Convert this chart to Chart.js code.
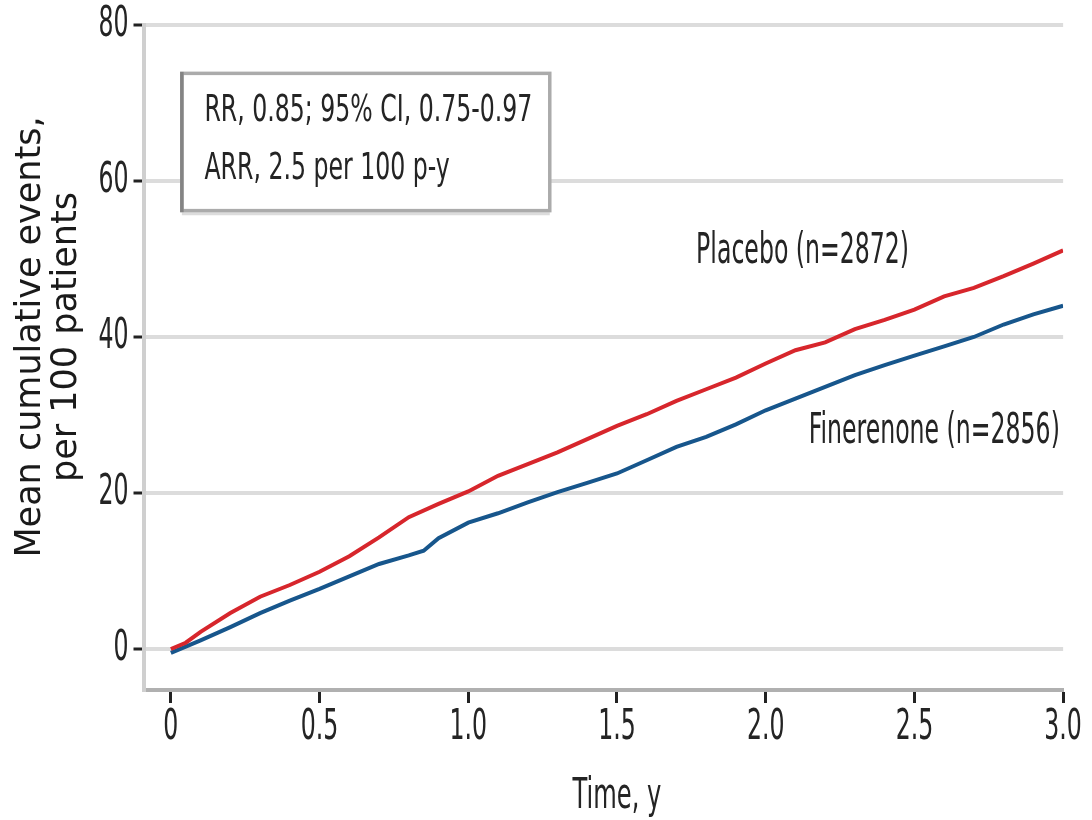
<!DOCTYPE html>
<html><head><meta charset="utf-8">
<script src="https://cdn.jsdelivr.net/npm/chart.js@4/dist/chart.umd.min.js"></script>
<style>html,body{margin:0;padding:0;background:#fff;} canvas{display:block}</style>
</head><body>
<canvas id="c" width="1092" height="820"></canvas>
<script>
// ---- data ----
const placeboTime   = [0, 0.05, 0.1, 0.2, 0.3, 0.4, 0.5, 0.6, 0.7, 0.8, 0.9, 1.0, 1.1, 1.2, 1.3, 1.4, 1.5, 1.6, 1.7, 1.8, 1.9, 2.0, 2.1, 2.2, 2.3, 2.4, 2.5, 2.6, 2.7, 2.8, 2.9, 3.0];
const placeboValues = [0, 0.8, 2.2, 4.6, 6.7, 8.2, 9.9, 11.9, 14.3, 16.9, 18.6, 20.2, 22.2, 23.7, 25.2, 26.9, 28.6, 30.1, 31.8, 33.3, 34.8, 36.6, 38.3, 39.3, 41.0, 42.2, 43.5, 45.2, 46.3, 47.8, 49.4, 51.1];
const finerenoneTime   = [0, 0.05, 0.1, 0.2, 0.3, 0.4, 0.5, 0.6, 0.7, 0.8, 0.85, 0.9, 1.0, 1.1, 1.2, 1.3, 1.4, 1.5, 1.6, 1.7, 1.8, 1.9, 2.0, 2.1, 2.2, 2.3, 2.4, 2.5, 2.6, 2.7, 2.8, 2.9, 3.0];
const finerenoneValues = [-0.5, 0.3, 1.1, 2.8, 4.6, 6.2, 7.7, 9.3, 10.9, 12.0, 12.6, 14.2, 16.2, 17.4, 18.8, 20.1, 21.3, 22.5, 24.2, 25.9, 27.2, 28.8, 30.6, 32.1, 33.6, 35.1, 36.4, 37.6, 38.8, 40.0, 41.6, 42.9, 44.0];
const xTickValues = [0, 0.5, 1.0, 1.5, 2.0, 2.5, 3.0];
const xTickLabels = ['0', '0.5', '1.0', '1.5', '2.0', '2.5', '3.0'];
const yTickValues = [0, 20, 40, 60, 80];
const yTickLabels = ['0', '20', '40', '60', '80'];
const seriesNames = ['Placebo (n=2872)', 'Finerenone (n=2856)'];
const statsLines  = ['RR, 0.85; 95% CI, 0.75-0.97', 'ARR, 2.5 per 100 p-y'];
const xTitleText  = 'Time, y';
const yTitleLines = ['Mean cumulative events,', 'per 100 patients'];

// ---- presentation ----
const NARROW = '"Liberation Sans Narrow", "DejaVu Sans Condensed", "Arial Narrow", sans-serif';
const TEXT_COLOR = '#242424';
const RED = '#d7262c';
const BLUE = '#17568c';
const TICK_SX = 0.82, TICK_SY = 1.355;

const seriesLabelPos = [ {x: 2.482, y: 50.9, sx: 0.82, sy: 1.34}, {x: 2.989, y: 27.8, sx: 0.82, sy: 1.34} ];
const statsBox = {x0: 0.037, x1: 1.274, y0: 73.8, y1: 56.2, textX: 0.113, lineY: [68.9, 61.5], sx: 0.82, sy: 1.16};

function fillScaled(ctx, text, x, y, sx, sy) {
  const fill = ctx._origFill || ctx.fillText;
  ctx.save();
  ctx.translate(x, y);
  ctx.scale(sx, sy);
  fill.call(ctx, text, 0, 0);
  ctx.restore();
}

// reshapes the condensed tick labels drawn by Chart.js (tall, narrow letters as in the reference)
const stretchPlugin = {
  id: 'stretchText',
  beforeDraw(chart) {
    const ctx = chart.ctx;
    if (ctx._origFill) return;
    const orig = ctx.fillText;
    ctx._origFill = orig;
    ctx.fillText = function (text, x, y, maxWidth) {
      if (this.font.indexOf('Narrow') >= 0) {
        this.save();
        this.translate(x, y);
        this.scale(TICK_SX, TICK_SY);
        orig.call(this, text, 0, 0, maxWidth);
        this.restore();
      } else {
        orig.call(this, text, x, y, maxWidth);
      }
    };
  },
  afterDraw(chart) {
    const ctx = chart.ctx;
    if (ctx._origFill) {
      const orig = ctx._origFill;
      delete ctx.fillText;
      delete ctx._origFill;
      if (ctx.fillText !== orig) ctx.fillText = orig;
    }
  }
};

const annotatePlugin = {
  id: 'annotate',
  afterDatasetsDraw(chart) {
    const ctx = chart.ctx, xs = chart.scales.x, ys = chart.scales.y, ca = chart.chartArea;
    ctx.save();
    // stats box
    const bx0 = xs.getPixelForValue(statsBox.x0), bx1 = xs.getPixelForValue(statsBox.x1);
    const by0 = ys.getPixelForValue(statsBox.y0), by1 = ys.getPixelForValue(statsBox.y1);
    ctx.fillStyle = '#fff';
    ctx.fillRect(bx0, by0, bx1 - bx0, by1 - by0);
    ctx.strokeStyle = '#dcdcdc'; ctx.lineWidth = 3;
    ctx.beginPath(); ctx.moveTo(bx0, by1 + 3); ctx.lineTo(bx1, by1 + 3); ctx.stroke();
    ctx.strokeStyle = '#ababab'; ctx.lineWidth = 3.5;
    ctx.strokeRect(bx0, by0, bx1 - bx0, by1 - by0);
    ctx.strokeStyle = '#848484';
    ctx.beginPath(); ctx.moveTo(bx0, by0 - 1.5); ctx.lineTo(bx0, by1 + 1.5); ctx.stroke();

    ctx.fillStyle = TEXT_COLOR;
    ctx.font = '32px ' + NARROW;
    ctx.textAlign = 'left';
    ctx.textBaseline = 'middle';
    statsLines.forEach((t, i) => fillScaled(ctx, t, xs.getPixelForValue(statsBox.textX), ys.getPixelForValue(statsBox.lineY[i]), statsBox.sx, statsBox.sy));

    // series labels
    ctx.font = '32px ' + NARROW;
    ctx.textAlign = 'right';
    seriesNames.forEach((t, i) => fillScaled(ctx, t, xs.getPixelForValue(seriesLabelPos[i].x), ys.getPixelForValue(seriesLabelPos[i].y), seriesLabelPos[i].sx, seriesLabelPos[i].sy));

    // x title
    ctx.textAlign = 'center';
    ctx.font = '32px ' + NARROW;
    fillScaled(ctx, xTitleText, xs.getPixelForValue(1.5), ca.bottom + 107, 0.84, 1.33);

    // y title
    ctx.font = '35px "DejaVu Sans", sans-serif';
    ctx.fillStyle = '#1a1a1a';
    const yc = ys.getPixelForValue(40);
    yTitleLines.forEach((t, i) => {
      ctx.save();
      ctx.translate(31 + i * 36, yc);
      ctx.rotate(-Math.PI / 2);
      (ctx._origFill || ctx.fillText).call(ctx, t, 0, 0);
      ctx.restore();
    });
    ctx.restore();
  }
};

const toPoints = (xs, ys) => xs.map((x, i) => ({x: x, y: ys[i]}));

new Chart(document.getElementById('c'), {
  type: 'line',
  data: {
    datasets: [
      { label: seriesNames[0], data: toPoints(placeboTime, placeboValues), borderColor: RED, borderWidth: 4, pointRadius: 0, tension: 0, fill: false },
      { label: seriesNames[1], data: toPoints(finerenoneTime, finerenoneValues), borderColor: BLUE, borderWidth: 4, pointRadius: 0, tension: 0, fill: false }
    ]
  },
  options: {
    responsive: false,
    animation: false,
    devicePixelRatio: 1,
    layout: { padding: { left: 0, top: 25, right: 21.7, bottom: 0 } },
    plugins: { legend: { display: false }, tooltip: { enabled: false }, title: { display: false } },
    scales: {
      x: {
        type: 'linear',
        min: -0.092, max: 3.0,
        afterBuildTicks: s => { s.ticks = xTickValues.map(v => ({value: v})); },
        afterFit: s => { s.height = 130; },
        grid: { drawOnChartArea: false, drawTicks: true, tickLength: 13, tickWidth: 3, tickColor: '#222' },
        border: { display: true, color: '#b0b0b0', width: 4 },
        ticks: {
          autoSkip: false, maxRotation: 0, minRotation: 0, padding: 6,
          color: TEXT_COLOR, font: { family: NARROW, size: 32 },
          callback: (v, i) => xTickLabels[i]
        }
      },
      y: {
        type: 'linear',
        min: -5.26, max: 80,
        afterBuildTicks: s => { s.ticks = yTickValues.map(v => ({value: v})); },
        afterFit: s => { s.width = 143.5; },
        grid: { drawOnChartArea: true, color: '#dcdcdc', lineWidth: 4, drawTicks: true, tickLength: 10, tickWidth: 3, tickColor: '#222' },
        border: { display: true, color: '#cfcfcf', width: 4 },
        ticks: {
          autoSkip: false, padding: 5,
          color: TEXT_COLOR, font: { family: NARROW, size: 32 },
          callback: (v, i) => yTickLabels[i]
        }
      }
    }
  },
  plugins: [stretchPlugin, annotatePlugin]
});
</script>
</body></html>
